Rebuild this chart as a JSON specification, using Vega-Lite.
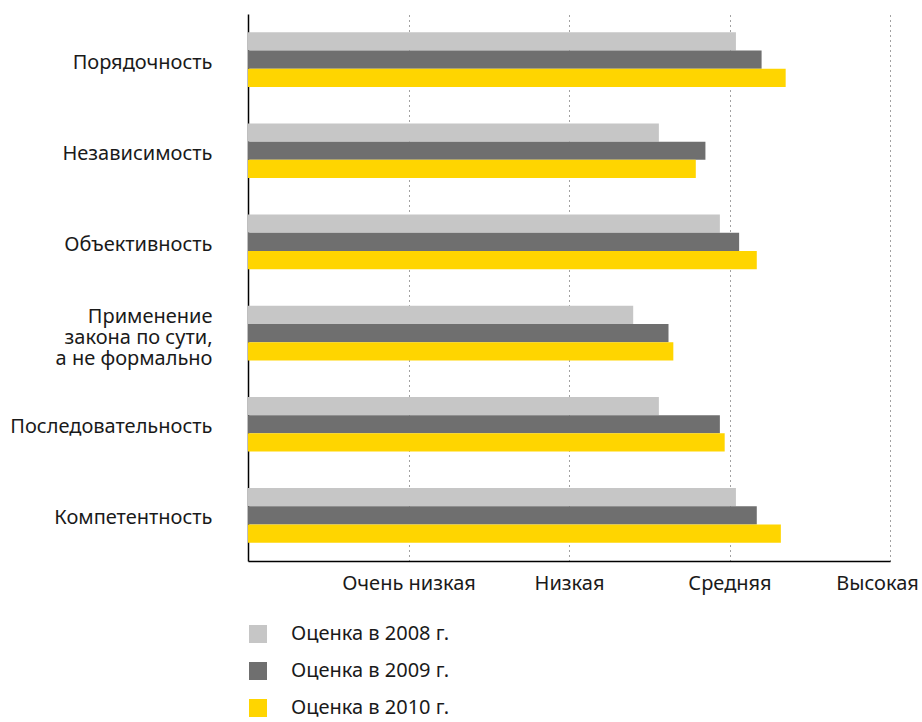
{
  "$schema": "https://vega.github.io/schema/vega-lite/v6.json",
  "autosize": {"type": "none"},
  "width": 642,
  "height": 547,
  "padding": {"left": 248, "top": 14, "right": 32, "bottom": 161},
  "background": "white",
  "config": {
    "view": {"stroke": null},
    "font": "Noto Sans",
    "axis": {"labelFont": "Noto Sans", "labelColor": "#1a1a1a", "labelFontSize": 20, "labelLimit": 260}
  },
  "data": {
    "values": [
      {"criterion": "Порядочность", "year": "Оценка в 2008 г.", "score": 3.04},
      {"criterion": "Порядочность", "year": "Оценка в 2009 г.", "score": 3.2},
      {"criterion": "Порядочность", "year": "Оценка в 2010 г.", "score": 3.35},
      {"criterion": "Независимость", "year": "Оценка в 2008 г.", "score": 2.56},
      {"criterion": "Независимость", "year": "Оценка в 2009 г.", "score": 2.85},
      {"criterion": "Независимость", "year": "Оценка в 2010 г.", "score": 2.79},
      {"criterion": "Объективность", "year": "Оценка в 2008 г.", "score": 2.94},
      {"criterion": "Объективность", "year": "Оценка в 2009 г.", "score": 3.06},
      {"criterion": "Объективность", "year": "Оценка в 2010 г.", "score": 3.17},
      {"criterion": "Применение |закона по сути,|а не формально", "year": "Оценка в 2008 г.", "score": 2.4},
      {"criterion": "Применение |закона по сути,|а не формально", "year": "Оценка в 2009 г.", "score": 2.62},
      {"criterion": "Применение |закона по сути,|а не формально", "year": "Оценка в 2010 г.", "score": 2.65},
      {"criterion": "Последовательность", "year": "Оценка в 2008 г.", "score": 2.56},
      {"criterion": "Последовательность", "year": "Оценка в 2009 г.", "score": 2.94},
      {"criterion": "Последовательность", "year": "Оценка в 2010 г.", "score": 2.97},
      {"criterion": "Компетентность", "year": "Оценка в 2008 г.", "score": 3.04},
      {"criterion": "Компетентность", "year": "Оценка в 2009 г.", "score": 3.17},
      {"criterion": "Компетентность", "year": "Оценка в 2010 г.", "score": 3.32}
    ]
  },
  "mark": {"type": "bar"},
  "encoding": {
    "y": {
      "field": "criterion",
      "type": "nominal",
      "sort": null,
      "scale": {"paddingInner": 0.4, "paddingOuter": 0.2},
      "axis": {
        "title": null,
        "ticks": false,
        "labelPadding": 36,
        "labelLimit": 260,
        "labelExpr": "split(datum.label, '|')",
        "labelLineHeight": 21,
        "labelOffset": {
          "condition": {"test": "indexof(datum.value, '|') >= 0", "value": -16},
          "value": 3
        },
        "domainColor": "#000000",
        "domainWidth": 1.5
      }
    },
    "yOffset": {
      "field": "year",
      "type": "nominal",
      "scale": {"paddingInner": 0, "paddingOuter": 0}
    },
    "x": {
      "field": "score",
      "type": "quantitative",
      "scale": {"domain": [0, 4], "nice": false},
      "axis": {
        "title": null,
        "values": [1, 2, 3, 4],
        "labelExpr": "['', 'Очень низкая', 'Низкая', 'Средняя', 'Высокая'][datum.value]",
        "ticks": false,
        "labelPadding": 12,
        "labelFlush": false,
        "labelOffset": {
          "condition": {"test": "datum.value === 4", "value": -13},
          "value": 0
        },
        "grid": true,
        "gridColor": "#444444",
        "gridDash": [1, 4],
        "gridWidth": 1,
        "domainColor": "#000000",
        "domainWidth": 1.5
      }
    },
    "color": {
      "field": "year",
      "type": "nominal",
      "scale": {"range": ["#c6c6c6", "#6f6f6f", "#ffd500"]},
      "legend": {
        "title": null,
        "orient": "none",
        "legendX": 0,
        "legendY": 610,
        "padding": 0,
        "symbolType": "square",
        "symbolSize": 324,
        "symbolStrokeWidth": 0,
        "symbolOpacity": 1,
        "labelFont": "Noto Sans",
        "labelFontSize": 20,
        "labelColor": "#1a1a1a",
        "labelOffset": 23,
        "rowPadding": 17
      }
    }
  }
}
